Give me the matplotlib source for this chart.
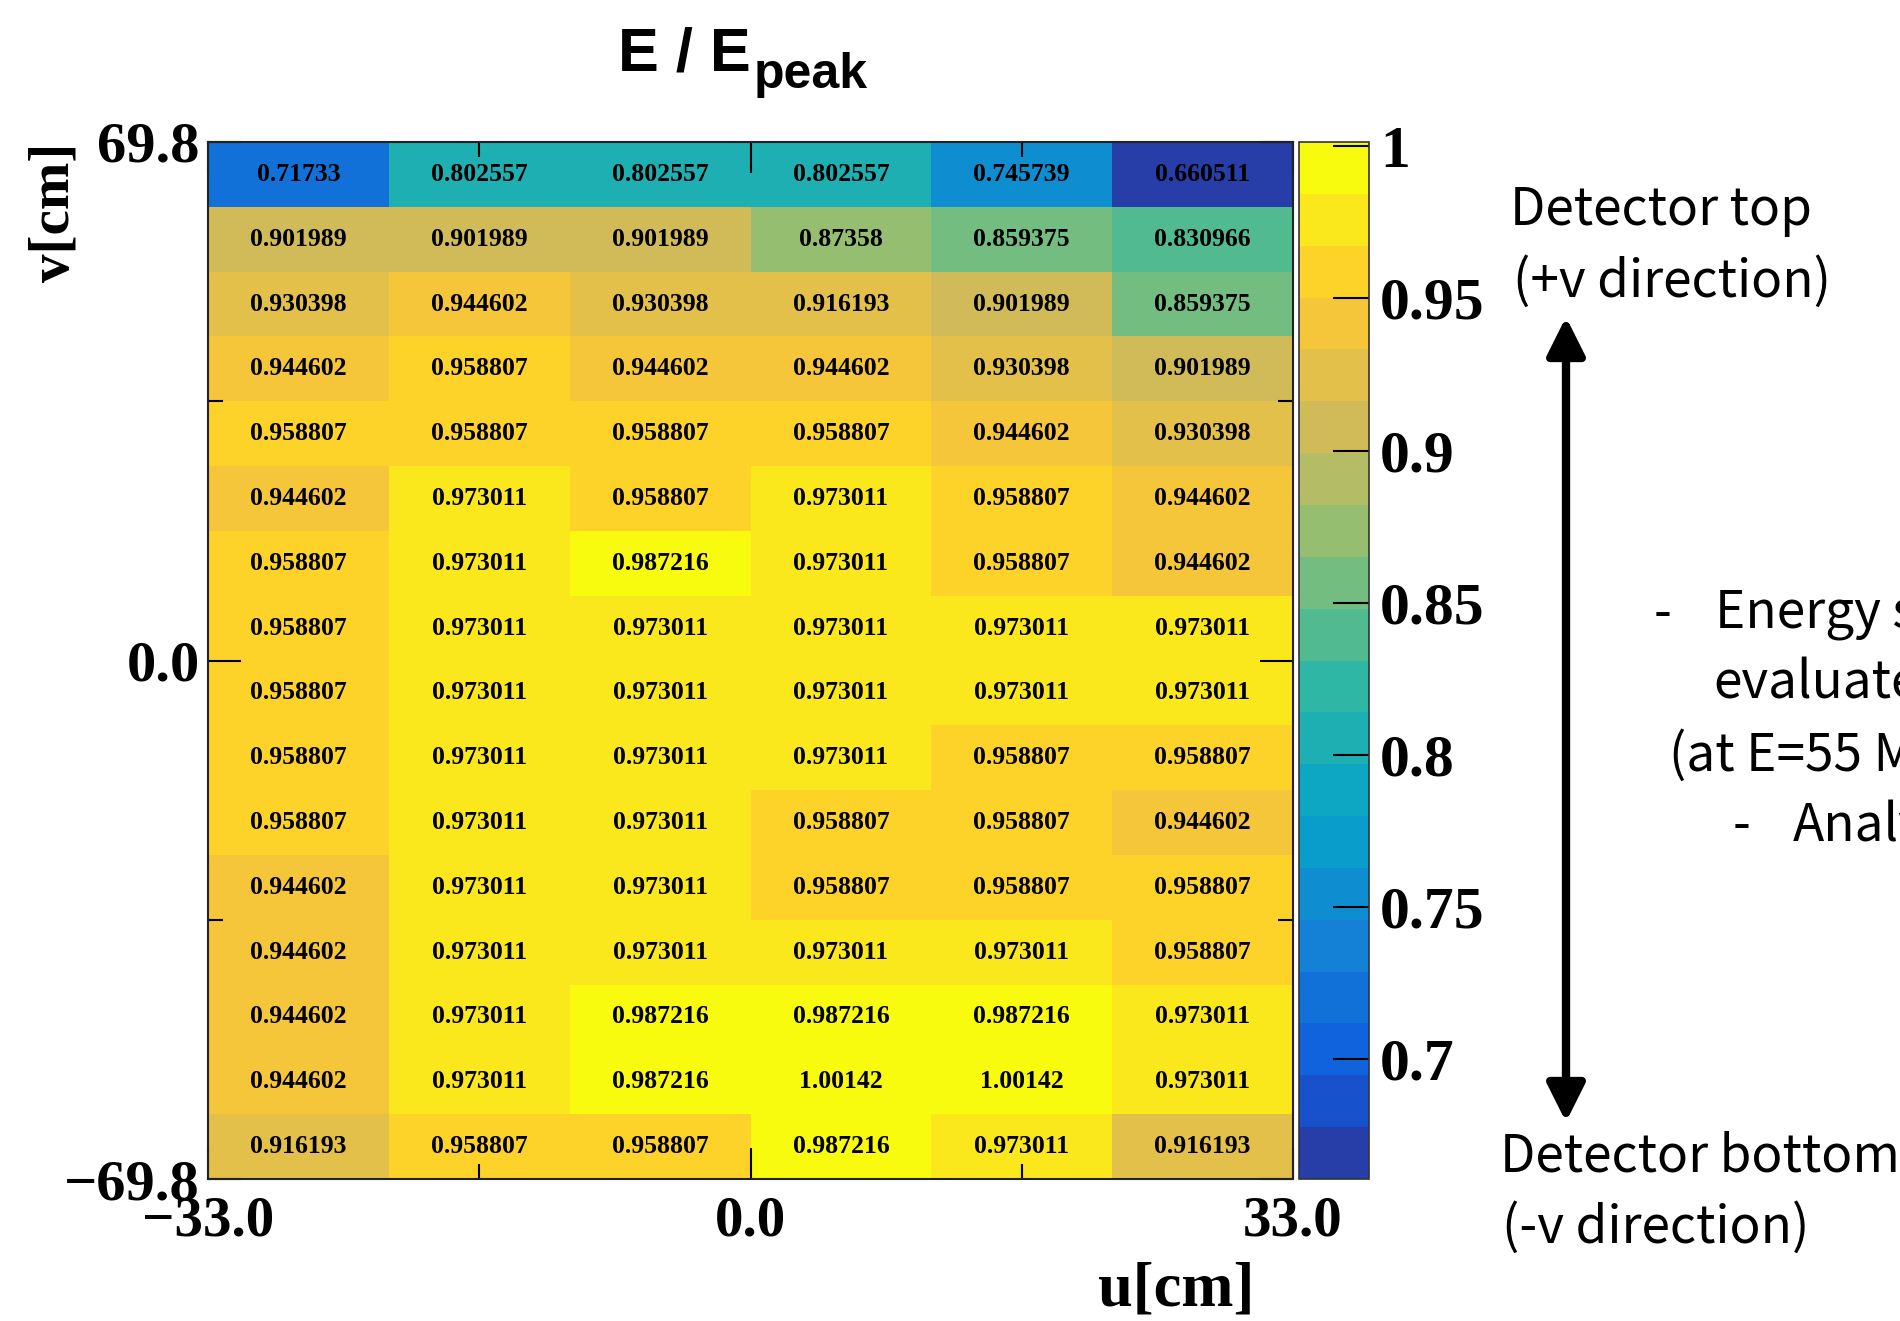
import numpy as np
import matplotlib
matplotlib.use('Agg')
import matplotlib.pyplot as plt
from matplotlib.colors import LinearSegmentedColormap, ListedColormap, Normalize
from matplotlib.ticker import FixedLocator, AutoMinorLocator

# E / E_peak per detector segment, rows listed from top (+v) to bottom (-v)
ratio = [
    [0.71733, 0.802557, 0.802557, 0.802557, 0.745739, 0.660511],
    [0.901989, 0.901989, 0.901989, 0.87358, 0.859375, 0.830966],
    [0.930398, 0.944602, 0.930398, 0.916193, 0.901989, 0.859375],
    [0.944602, 0.958807, 0.944602, 0.944602, 0.930398, 0.901989],
    [0.958807, 0.958807, 0.958807, 0.958807, 0.944602, 0.930398],
    [0.944602, 0.973011, 0.958807, 0.973011, 0.958807, 0.944602],
    [0.958807, 0.973011, 0.987216, 0.973011, 0.958807, 0.944602],
    [0.958807, 0.973011, 0.973011, 0.973011, 0.973011, 0.973011],
    [0.958807, 0.973011, 0.973011, 0.973011, 0.973011, 0.973011],
    [0.958807, 0.973011, 0.973011, 0.973011, 0.958807, 0.958807],
    [0.958807, 0.973011, 0.973011, 0.958807, 0.958807, 0.944602],
    [0.944602, 0.973011, 0.973011, 0.958807, 0.958807, 0.958807],
    [0.944602, 0.973011, 0.973011, 0.973011, 0.973011, 0.958807],
    [0.944602, 0.973011, 0.987216, 0.987216, 0.987216, 0.973011],
    [0.944602, 0.973011, 0.987216, 1.00142, 1.00142, 0.973011],
    [0.916193, 0.958807, 0.958807, 0.987216, 0.973011, 0.916193],
]
u_range = (-33.0, 33.0)
v_range = (-69.8, 69.8)
cbar_ticks = [0.7, 0.75, 0.8, 0.85, 0.9, 0.95, 1.0]

# ROOT kBird palette, drawn with 20 contour levels
bird_r = [0.2082, 0.0592, 0.0780, 0.0232, 0.1802, 0.5301, 0.8186, 0.9956, 0.9764]
bird_g = [0.1664, 0.3599, 0.5041, 0.6419, 0.7178, 0.7492, 0.7328, 0.7862, 0.9832]
bird_b = [0.5293, 0.8684, 0.8385, 0.7914, 0.6425, 0.4662, 0.3499, 0.1968, 0.0539]
bird = LinearSegmentedColormap.from_list('bird', list(zip(bird_r, bird_g, bird_b)), N=255)
n_cont = 20
idx = [min(int((i + 0.99) * 255 / n_cont), 254) for i in range(n_cont)]
cmap = ListedColormap([bird(k / 254) for k in idx])

data = np.array(ratio)
n_v, n_u = data.shape
u_edges = np.linspace(u_range[0], u_range[1], n_u + 1)
v_edges = np.linspace(v_range[0], v_range[1], n_v + 1)
u_cent = 0.5 * (u_edges[:-1] + u_edges[1:])
v_cent = 0.5 * (v_edges[:-1] + v_edges[1:])[::-1]

plt.rcParams['font.family'] = 'Liberation Serif'
plt.rcParams['font.weight'] = 'bold'
plt.rcParams['axes.unicode_minus'] = True

W, H = 1900, 1321
fig = plt.figure(figsize=(W / 100, H / 100), dpi=100)


def fx(px):
    return px / W


def fy(py):
    return 1 - py / H


ax = fig.add_axes([fx(208), fy(1179), fx(1293) - fx(208), fy(142) - fy(1179)])
norm = Normalize(vmin=data.min(), vmax=data.max())
mesh = ax.pcolormesh(u_edges, v_edges, data[::-1], cmap=cmap, norm=norm)

for i, row in enumerate(ratio):
    for j, val in enumerate(row):
        ax.text(u_cent[j], v_cent[i], f'{val:g}', ha='center', va='center',
                fontsize=18.5, fontweight='bold', family='Liberation Serif')

ax.set_xlim(*u_range)
ax.set_ylim(*v_range)
ax.xaxis.set_major_locator(FixedLocator([u_range[0], 0.0, u_range[1]]))
ax.yaxis.set_major_locator(FixedLocator([v_range[0], 0.0, v_range[1]]))
ax.xaxis.set_minor_locator(AutoMinorLocator(2))
ax.yaxis.set_minor_locator(AutoMinorLocator(2))
ax.xaxis.set_major_formatter(lambda x, p: f'{x:.1f}'.replace('-', '\u2212'))
ax.yaxis.set_major_formatter(lambda x, p: f'{x:.1f}'.replace('-', '\u2212'))
ax.tick_params(which='both', direction='in', top=True, right=True, width=1.5, color='black')
ax.tick_params(axis='x', which='major', length=22, pad=12, labelsize=41)
ax.tick_params(axis='x', which='minor', length=11)
ax.tick_params(axis='y', which='major', length=24, pad=6, labelsize=42)
ax.tick_params(axis='y', which='minor', length=11)
for s in ax.spines.values():
    s.set_linewidth(1.5)
    s.set_color('#222222')

cax = fig.add_axes([fx(1299), fy(1179), fx(1369) - fx(1299), fy(142) - fy(1179)])
cb = fig.colorbar(mesh, cax=cax)
cb.set_ticks(cbar_ticks)
cb.set_ticklabels([f'{t:g}' for t in cbar_ticks])
cax.tick_params(direction='in', length=26, width=1.5, pad=8, labelsize=43)
cb.outline.set_linewidth(1.2)
cb.outline.set_edgecolor('#333333')

# title: E / E with a large "peak" subscript
title_font = dict(family='Liberation Sans', fontweight='bold', va='baseline', ha='left')
t_main = fig.text(fx(618), fy(70), 'E / E', fontsize=44, **title_font)
fig.canvas.draw()
bb = t_main.get_window_extent()
fig.text(fx(bb.x1 + 3), fy(88), 'peak', fontsize=36, **title_font)

fig.text(fx(55), fy(143), 'v[cm]', rotation=90, ha='center', va='top', fontsize=41, fontweight='bold')
fig.text(fx(1254), fy(1290), 'u[cm]', ha='right', va='center', fontsize=45, fontweight='bold')

side = dict(family=['Noto Sans CJK JP', 'DejaVu Sans'], fontsize=37, fontweight='normal',
            va='center', ha='left', color='black')
fig.text(fx(1510), fy(210), 'Detector top', **side)
fig.text(fx(1513), fy(282), '(+v direction)', **side)
fig.text(fx(1500), fy(1157), 'Detector bottom', **side)
fig.text(fx(1502), fy(1228), '(-v direction)', **side)
fig.text(fx(1654), fy(614), '-', **side)
fig.text(fx(1715), fy(614), 'Energy scale', **side)
fig.text(fx(1713), fy(684), 'evaluated', **side)
fig.text(fx(1669), fy(756), '(at E=55 MeV)', **side)
fig.text(fx(1733), fy(826), '-', **side)
fig.text(fx(1793), fy(826), 'Analysis', **side)

ax.annotate('', xy=(fx(1566), fy(317)), xytext=(fx(1566), fy(1122)),
            xycoords='figure fraction', textcoords='figure fraction',
            arrowprops=dict(arrowstyle='<|-|>,head_length=0.38,head_width=0.19',
                            lw=6, color='black', mutation_scale=60,
                            shrinkA=0, shrinkB=0))

fig.savefig('out.png', dpi=100)
